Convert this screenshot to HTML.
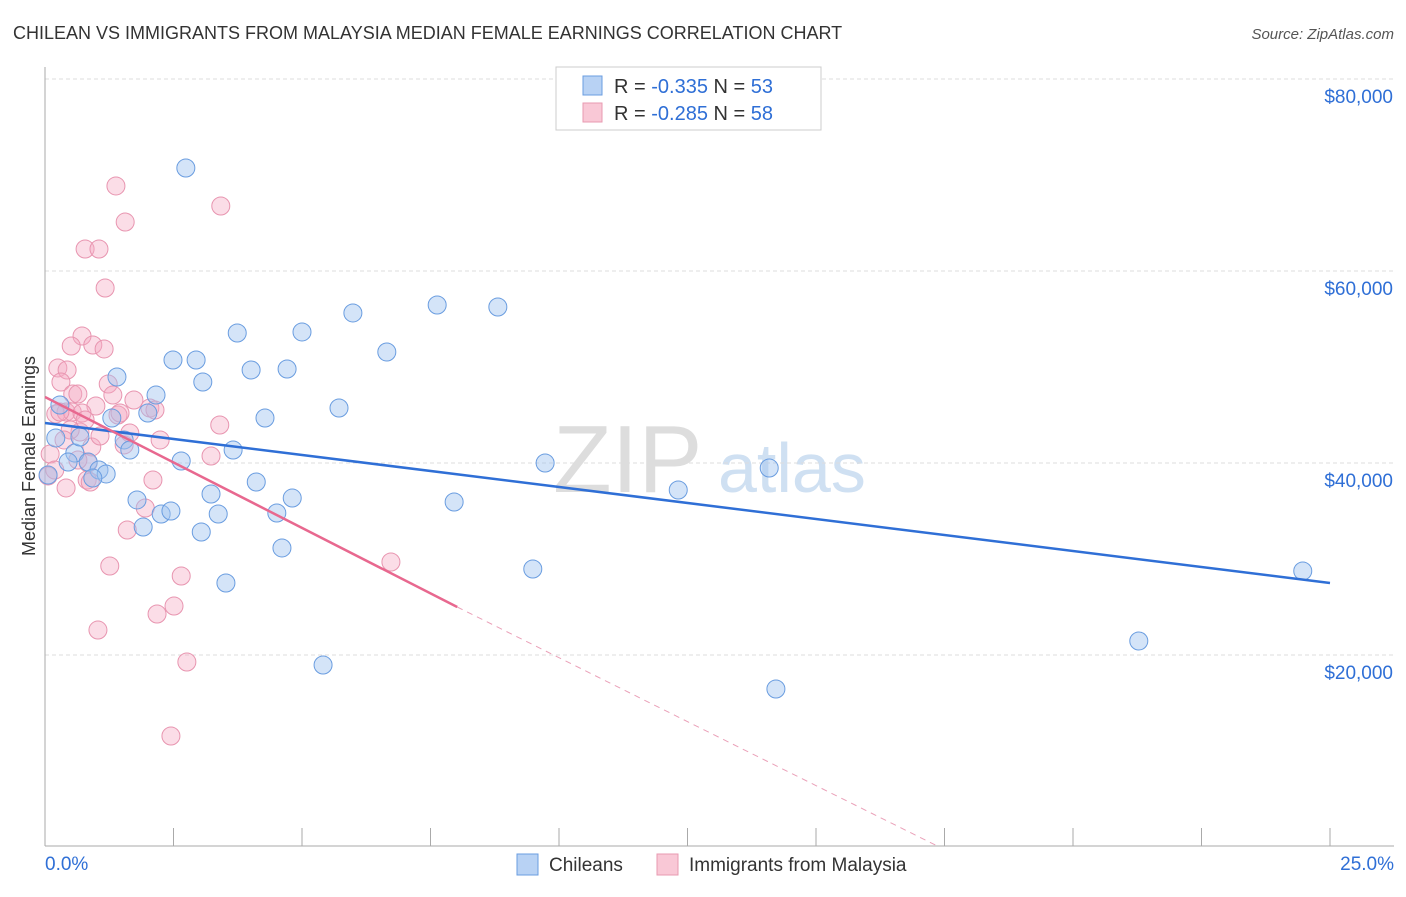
<!DOCTYPE html>
<html><head><meta charset="utf-8"><style>
body{margin:0;background:#fff;font-family:"Liberation Sans",sans-serif;}
svg text{font-family:"Liberation Sans",sans-serif;}
</style></head><body>
<svg id="chart" width="1406" height="892" viewBox="0 0 1406 892">
<text x="13" y="39" font-size="18" fill="#333">CHILEAN VS IMMIGRANTS FROM MALAYSIA MEDIAN FEMALE EARNINGS CORRELATION CHART</text>
<text x="1394" y="39" font-size="15" fill="#555" font-style="italic" text-anchor="end">Source: ZipAtlas.com</text>
<g>
<text x="553" y="492" font-size="96" fill="#ddd" font-family="Liberation Serif">ZIP</text>
<text x="718" y="492" font-size="70" fill="#cfe0f2">atlas</text>
</g>
<g id="grid"></g>
<g id="axes"></g>
<g id="marks"></g>
<text transform="translate(35,456) rotate(-90)" font-size="18" fill="#333" text-anchor="middle">Median Female Earnings</text>
<g>
<rect x="556" y="67" width="265" height="63" fill="#fff" stroke="#ccc"/>
<rect x="583" y="76" width="19" height="19" fill="#b8d2f4" stroke="#6a9de0"/>
<rect x="583" y="103" width="19" height="19" fill="#f9c8d6" stroke="#e89ab0"/>
<text x="614" y="93" font-size="20" fill="#333">R = <tspan fill="#2f6fd6">-0.335</tspan>   N = <tspan fill="#2f6fd6">53</tspan></text>
<text x="614" y="120" font-size="20" fill="#333">R = <tspan fill="#2f6fd6">-0.285</tspan>   N = <tspan fill="#2f6fd6">58</tspan></text>
</g>
<g>
<rect x="517" y="854" width="21" height="21" fill="#b8d2f4" stroke="#6a9de0"/>
<text x="549" y="871" font-size="19" fill="#333">Chileans</text>
<rect x="657" y="854" width="21" height="21" fill="#f9c8d6" stroke="#e89ab0"/>
<text x="689" y="871" font-size="19" fill="#333">Immigrants from Malaysia</text>
</g>
</svg>
<script>
const yTicks=[20000,40000,60000,80000];
const yTickLabels=["$20,000","$40,000","$60,000","$80,000"];
const xTicks=[0,2.5,5,7.5,10,12.5,15,17.5,20,22.5,25];
const xEndLabels=["0.0%","25.0%"];
const blueX=[2.74,5.99,7.63,8.81,3.74,5.00,6.65,2.49,2.94,3.07,4.01,4.71,1.40,2.16,2.00,1.30,4.28,5.72,1.54,3.66,0.21,0.58,0.45,0.84,1.05,1.19,0.93,2.65,9.73,14.09,12.32,1.79,3.23,4.81,7.96,4.11,2.26,2.45,3.37,1.91,3.04,4.51,4.61,3.52,9.49,24.47,21.28,5.41,14.22,1.65,0.06,0.68,0.29];
const blueY=[70730,55630,56460,56250,53540,53650,51560,50730,50730,48440,49690,49790,48960,47080,45210,44690,44690,45730,42400,41350,42610,41040,40100,40100,39270,38860,38440,40210,40000,39480,37190,36150,36770,36350,35940,38020,34690,35000,34690,33330,32810,34790,31150,27500,28960,28750,21460,18960,16460,41350,38750,42710,46040];
const pinkX=[1.38,3.42,1.56,0.78,1.05,1.17,0.72,0.93,1.15,0.51,0.25,0.43,0.31,1.23,0.54,0.64,1.32,1.73,0.99,2.04,0.21,0.41,0.53,0.72,1.42,0.29,0.68,0.91,1.54,1.65,3.40,3.23,0.84,0.10,2.10,0.82,0.41,1.95,1.60,1.26,6.73,2.65,2.51,2.18,1.03,2.76,2.45,0.06,1.46,2.14,1.07,0.88,0.19,2.24,0.49,0.64,0.37,0.78];
const pinkY=[68860,66770,65100,62290,62290,58230,53230,52290,51880,52190,49900,49690,48440,48230,47190,47190,47080,46560,45940,45730,45110,45310,45310,45210,45000,45310,43230,41670,41880,43130,43960,40730,40000,40940,38230,38230,37400,35310,33020,29270,29690,28230,25100,24270,22600,19270,11560,38650,45210,45520,42810,38020,39270,42400,43440,40310,42400,44480];
const blueTrend=[[0,44170],[25,27500]];
const pinkTrendSolid=[[0,46880],[8.02,25000]];
const pinkTrendDash=[[8.02,25000],[17.4,0]];

const NS="http://www.w3.org/2000/svg";
const xs=v=>45+v*(1285/25);
const ys=v=>847-v*(192/20000);
function mk(tag,attrs,parent){const e=document.createElementNS(NS,tag);for(const k in attrs)e.setAttribute(k,attrs[k]);parent.appendChild(e);return e;}
const grid=document.getElementById('grid'),axes=document.getElementById('axes'),marks=document.getElementById('marks');
yTicks.forEach((t,i)=>{
 const l=mk('line',{x1:45,x2:1394,y1:ys(t),y2:ys(t),stroke:'#ddd','stroke-dasharray':'4,3'},grid);
 
 
 const tx=mk('text',{x:1393,y:ys(t)+24,'font-size':19,fill:'#2f6fd6','text-anchor':'end'},axes);
 tx.textContent=yTickLabels[i];
 
 
});
const topGrid=mk('line',{x1:45,x2:1394,y1:79,y2:79,stroke:'#ddd','stroke-dasharray':'4,3'},grid);


const ya=mk('line',{x1:45,x2:45,y1:67,y2:846,stroke:'#aaa'},axes);


const xa=mk('line',{x1:45,x2:1394,y1:846,y2:846,stroke:'#aaa'},axes);


xTicks.forEach(t=>{
 const l=mk('line',{x1:xs(t),x2:xs(t),y1:828,y2:846,stroke:'#aaa'},axes);
 
 
});
const xl0=mk('text',{x:45,y:870,'font-size':19,fill:'#2f6fd6'},axes);
xl0.textContent=xEndLabels[0];


const xl1=mk('text',{x:1394,y:870,'font-size':19,fill:'#2f6fd6','text-anchor':'end'},axes);
xl1.textContent=xEndLabels[1];


pinkX.forEach((x,i)=>{
 const c=mk('circle',{cx:xs(x),cy:ys(pinkY[i]),r:9,fill:'rgba(246,170,195,0.4)',stroke:'#e895b0','stroke-width':1},marks);
 
 
});
blueX.forEach((x,i)=>{
 const c=mk('circle',{cx:xs(x),cy:ys(blueY[i]),r:9,fill:'rgba(160,196,240,0.45)',stroke:'#6a9de0','stroke-width':1},marks);
 
 
});
const bt=mk('line',{x1:xs(blueTrend[0][0]),y1:ys(blueTrend[0][1]),x2:xs(blueTrend[1][0]),y2:ys(blueTrend[1][1]),stroke:'#2f6fd6','stroke-width':2.5},marks);


const pt=mk('line',{x1:xs(pinkTrendSolid[0][0]),y1:ys(pinkTrendSolid[0][1]),x2:xs(pinkTrendSolid[1][0]),y2:ys(pinkTrendSolid[1][1]),stroke:'#e8688f','stroke-width':2.5},marks);


const pd=mk('line',{x1:xs(pinkTrendDash[0][0]),y1:ys(pinkTrendDash[0][1]),x2:xs(pinkTrendDash[1][0]),y2:ys(pinkTrendDash[1][1]),stroke:'#eaa0b8','stroke-width':1,'stroke-dasharray':'6,5'},marks);


</script>
</body></html>
